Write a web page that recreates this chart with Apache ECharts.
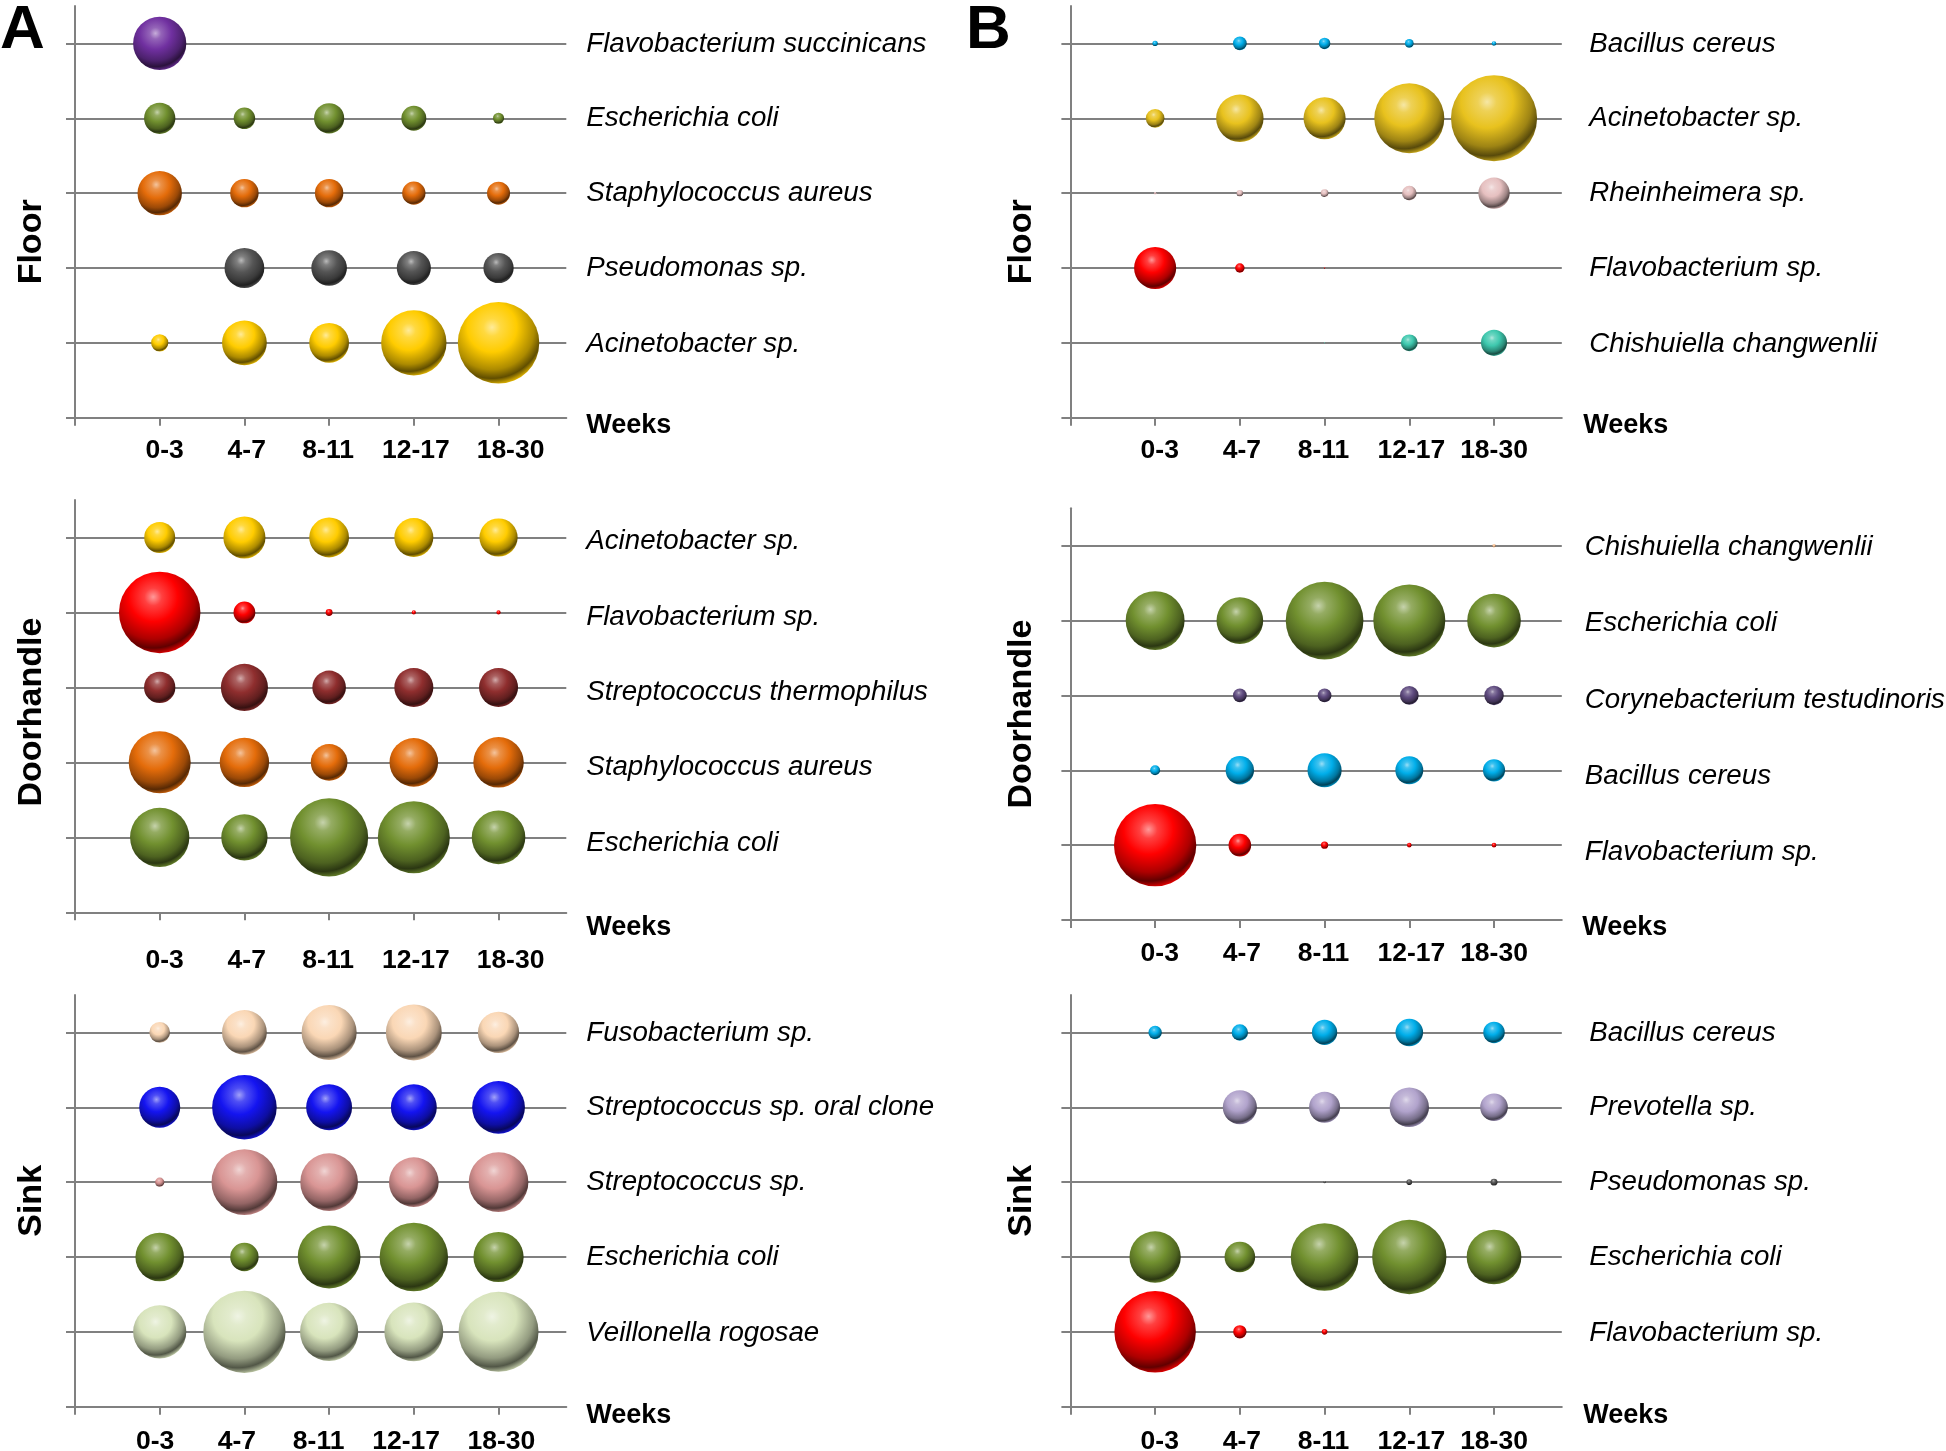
<!DOCTYPE html>
<html>
<head>
<meta charset="utf-8">
<script src="https://cdn.jsdelivr.net/npm/echarts@6/dist/echarts.min.js"></script>
<style>
  html, body { margin: 0; padding: 0; background: #fff; }
  #chart { width: 1946px; height: 1451px; }
</style>
</head>
<body>
<div id="chart"></div>
<script>
// ---------------- DATA ----------------
const weeks = ['0-3', '4-7', '8-11', '12-17', '18-30'];

// Relative abundance (bubble area), species listed top to bottom; null = not detected
const floorA_species = ['Flavobacterium succinicans', 'Escherichia coli', 'Staphylococcus aureus', 'Pseudomonas sp.', 'Acinetobacter sp.'];
const floorA_values = [
  [28.30, null, null, null, null],
  [9.80, 4.62, 9.12, 6.20, 1.23],
  [19.71, 8.07, 8.07, 5.43, 5.29],
  [null, 15.84, 12.67, 11.63, 9.12],
  [2.96, 20.07, 15.84, 42.77, 66.42]
];

const doorA_species = ['Acinetobacter sp.', 'Flavobacterium sp.', 'Streptococcus thermophilus', 'Staphylococcus aureus', 'Escherichia coli'];
const doorA_values = [
  [9.61, 17.72, 15.84, 15.21, 14.59],
  [66.42, 4.75, 0.48, 0.18, 0.18],
  [9.80, 22.18, 11.29, 15.21, 15.21],
  [38.44, 24.40, 13.47, 23.62, 25.50],
  [35.16, 21.44, 61.00, 51.84, 28.73]
];

const sinkA_species = ['Fusobacterium sp.', 'Streptococcus sp. oral clone', 'Streptococcus sp.', 'Escherichia coli', 'Veillonella rogosae'];
const sinkA_values = [
  [4.28, 20.07, 30.36, 31.25, 17.06],
  [16.81, 41.73, 21.07, 21.07, 27.88],
  [0.85, 43.30, 33.29, 24.70, 35.64],
  [23.62, 8.07, 39.44, 46.92, 25.20],
  [28.30, 67.73, 33.87, 34.69, 64.00]
];

const floorB_species = ['Bacillus cereus', 'Acinetobacter sp.', 'Rheinheimera sp.', 'Flavobacterium sp.', 'Chishuiella changwenlii'];
const floorB_values = [
  [0.29, 1.90, 1.32, 0.77, 0.21],
  [3.50, 22.47, 17.72, 49.00, 74.13],
  [0.06, 0.42, 0.59, 2.13, 9.80],
  [17.72, 0.90, 0.02, null, null],
  [null, null, 0.01, 2.86, 6.81]
];

const doorB_species = ['Chishuiella changwenlii', 'Escherichia coli', 'Corynebacterium testudinoris', 'Bacillus cereus', 'Flavobacterium sp.'];
const doorB_values = [
  [null, null, null, null, 0.12],
  [34.69, 21.81, 60.37, 51.84, 28.73],
  [null, 1.90, 1.90, 3.50, 3.80],
  [1.00, 8.07, 11.63, 7.78, 4.93],
  [67.73, 5.11, 0.52, 0.21, 0.21]
];

const sinkB_species = ['Bacillus cereus', 'Prevotella sp.', 'Pseudomonas sp.', 'Escherichia coli', 'Flavobacterium sp.'];
const sinkB_values = [
  [1.80, 2.69, 6.40, 7.62, 4.62],
  [null, 11.63, 9.61, 15.52, 7.62],
  [null, null, 0.05, 0.32, 0.48],
  [26.32, 9.36, 45.83, 55.20, 29.92],
  [66.42, 1.80, 0.32, null, null]
];

// ---------------- STYLES ----------------
const floorA_colors = ['#7030a0', '#71902f', '#e46c0a', '#555555', '#ffcc00'];
const doorA_colors  = ['#ffcc00', '#ff0000', '#8f2e2e', '#e46c0a', '#71902f'];
const sinkA_colors  = ['#fad7b5', '#1414f0', '#d99594', '#71902f', '#d8e4bc'];
const floorB_colors = ['#00aeea', '#e8c21e', '#e6c0c0', '#ff0000', '#3ec8ae'];
const doorB_colors  = ['#fac090', '#71902f', '#5f4b7f', '#00aeea', '#ff0000'];
const sinkB_colors  = ['#00aeea', '#b1a3cc', '#555555', '#71902f', '#ff0000'];

const FONT = '"Liberation Sans", Arial, Helvetica, sans-serif';
const LINE = '#808080';

// per-label horizontal nudges of the week labels (px)
const nudgeA = [5, 2.3, -1, 2, 12];
const nudgeAsink = [-4.6, -7.6, -10.5, -7.7, 2.8];
const nudgeB = [4.6, 2, -1, 2, 0];
// per-label vertical nudges of the species labels (px, + = down)
const spNudgeFloor = [-1.9, -1.7, -1.4, -0.5, 0.3];
const spNudgeDoorA = [2.7, 4, 4, 4.4, 5];
const spNudgeDoorB = [0.7, 2, 4, 4.7, 6];

const panels = [
  { title: 'Floor', species: floorA_species, values: floorA_values, colors: floorA_colors,
    lay: { left: 75, top: 6, width: 491.3, height: 411.7, labelMargin: 19, nudge: nudgeA, spNudge: spNudgeFloor, nameGap: 26, namePad: [0, 60, 0, 0], weeksGap: 20, weeksLH: 15.6, spMargin: 20 } },
  { title: 'Doorhandle', species: doorA_species, values: doorA_values, colors: doorA_colors,
    lay: { left: 75, top: 500, width: 491.3, height: 412.3, labelMargin: 35, nudge: nudgeA, spNudge: spNudgeDoorA, nameGap: 26, namePad: [0, 12, 0, 0], weeksGap: 20, weeksLH: 31, spMargin: 20 } },
  { title: 'Sink', species: sinkA_species, values: sinkA_values, colors: sinkA_colors,
    lay: { left: 75, top: 995, width: 491.3, height: 411.7, labelMargin: 21, nudge: nudgeAsink, spNudge: spNudgeFloor, nameGap: 26, namePad: [0, 0, 0, 0], weeksGap: 20, weeksLH: 17, spMargin: 20 } },
  { title: 'Floor', species: floorB_species, values: floorB_values, colors: floorB_colors,
    lay: { left: 1070.4, top: 6, width: 491.4, height: 411.7, labelMargin: 19, nudge: nudgeB, spNudge: spNudgeFloor, nameGap: 32, namePad: [0, 60, 0, 0], weeksGap: 21.5, weeksLH: 15.6, spMargin: 27.5 } },
  { title: 'Doorhandle', species: doorB_species, values: doorB_values, colors: doorB_colors,
    lay: { left: 1070.4, top: 508.3, width: 491.4, height: 411.7, labelMargin: 20, nudge: nudgeB, spNudge: spNudgeDoorB, nameGap: 32, namePad: [0, 0, 0, 0], weeksGap: 20.5, weeksLH: 16, spMargin: 23 } },
  { title: 'Sink', species: sinkB_species, values: sinkB_values, colors: sinkB_colors,
    lay: { left: 1070.4, top: 995, width: 491.4, height: 411.7, labelMargin: 21, nudge: nudgeB, spNudge: spNudgeFloor, nameGap: 32, namePad: [0, 0, 0, 0], weeksGap: 21.5, weeksLH: 17, spMargin: 27.5 } }
];

// ---------------- HELPERS ----------------
function hexToRgb(h) {
  h = h.replace('#', '');
  return [parseInt(h.substr(0, 2), 16), parseInt(h.substr(2, 2), 16), parseInt(h.substr(4, 2), 16)];
}
function mix(c1, c2, t) {
  const a = hexToRgb(c1), b = hexToRgb(c2);
  const r = a.map((v, i) => Math.round(v + (b[i] - v) * t));
  return 'rgb(' + r.join(',') + ')';
}
function sphere(base) {
  return {
    type: 'radial', x: 0.42, y: 0.31, r: 0.72,
    colorStops: [
      { offset: 0.0, color: mix(base, '#ffffff', 0.6) },
      { offset: 0.15, color: mix(base, '#ffffff', 0.25) },
      { offset: 0.42, color: base },
      { offset: 0.72, color: mix(base, '#000000', 0.32) },
      { offset: 0.87, color: mix(base, '#000000', 0.62) },
      { offset: 1.0, color: mix(base, '#000000', 0.02) }
    ]
  };
}
function weekRich(nudge) {
  const rich = {};
  nudge.forEach((dx, i) => {
    rich['w' + i] = {
      fontFamily: FONT, fontSize: 26.5, fontWeight: 'bold', color: '#000',
      padding: dx >= 0 ? [0, 0, 0, 2 * dx] : [0, -2 * dx, 0, 0]
    };
  });
  return rich;
}
function speciesRich(nudge) {
  const rich = {};
  nudge.forEach((dy, k) => {
    rich['s' + k] = {
      fontFamily: FONT, fontSize: 27.7, fontStyle: 'italic', color: '#000',
      lineHeight: Math.max(1, 2 * (dy + 1))
    };
  });
  return rich;
}

// ---------------- OPTION ----------------
const grid = [], xAxis = [], yAxis = [], series = [];

panels.forEach((p, i) => {
  const L = p.lay;
  grid.push({ left: L.left, top: L.top, width: L.width, height: L.height, containLabel: false, outerBoundsMode: 'none' });

  xAxis.push({
    gridIndex: i, type: 'value', min: 0, max: 5.8, interval: 1,
    axisLine: { show: true, onZero: false, lineStyle: { color: LINE, width: 2 } },
    axisTick: { show: true, length: 8, customValues: [0, 1, 2, 3, 4, 5], lineStyle: { color: LINE, width: 2 } },
    axisLabel: {
      show: true, customValues: [1, 2, 3, 4, 5], margin: L.labelMargin,
      formatter: v => (Number.isInteger(v) && v >= 1 && v <= 5) ? '{w' + (v - 1) + '|' + weeks[v - 1] + '}' : '',
      rich: weekRich(L.nudge),
      fontFamily: FONT, fontSize: 26.5, fontWeight: 'bold', color: '#000'
    },
    splitLine: { show: false },
    name: 'Weeks', nameLocation: 'end', nameGap: L.weeksGap,
    nameTextStyle: { fontFamily: FONT, fontSize: 27, fontWeight: 'bold', color: '#000',
      verticalAlign: 'top', align: 'left', lineHeight: L.weeksLH }
  });

  // left axis: vertical line, stubs, row lines, panel name
  yAxis.push({
    gridIndex: i, type: 'value', min: 0, max: 5.5, interval: 1, position: 'left',
    axisLine: { show: true, onZero: false, lineStyle: { color: LINE, width: 2 } },
    axisTick: { show: true, length: 9, customValues: [0, 1, 2, 3, 4, 5], lineStyle: { color: LINE, width: 2 } },
    axisLabel: { show: false },
    splitLine: { show: true, lineStyle: { color: [LINE, LINE, LINE, LINE, LINE, LINE, 'rgba(0,0,0,0)'], width: 2 } },
    name: p.title, nameLocation: 'middle', nameRotate: 90, nameGap: L.nameGap,
    nameTextStyle: { fontFamily: FONT, fontSize: 34, fontWeight: 'bold', color: '#000', padding: L.namePad }
  });

  // right axis: species names
  const sp = p.species;
  yAxis.push({
    gridIndex: i, type: 'value', min: 0, max: 5.5, interval: 1, position: 'right',
    axisLine: { show: false }, axisTick: { show: false }, splitLine: { show: false },
    axisLabel: {
      show: true, customValues: [1, 2, 3, 4, 5], margin: L.spMargin, align: 'left', verticalAlign: 'top',
      formatter: v => { const k = 5 - v; return (Number.isInteger(v) && k >= 0 && k < 5) ? '{s' + k + '|' + sp[k] + '}' : ''; },
      rich: speciesRich(L.spNudge),
      fontFamily: FONT, fontSize: 27.7, fontStyle: 'italic', color: '#000'
    }
  });

  p.values.forEach((row, k) => {
    const data = [];
    row.forEach((v, w) => { if (v != null) data.push([w + 1, 5 - k, v]); });
    series.push({
      type: 'scatter', name: sp[k], xAxisIndex: i, yAxisIndex: 2 * i,
      data: data, symbol: 'circle',
      symbolSize: d => 10 * Math.sqrt(d[2]),
      itemStyle: { color: sphere(p.colors[k]), opacity: 1 },
      silent: true, z: 3
    });
  });
});

const option = {
  backgroundColor: '#ffffff',
  animation: false,
  title: [
    { text: 'A', left: 0, top: 0, padding: 0, textStyle: { fontFamily: FONT, fontSize: 62, fontWeight: 'bold', color: '#000' } },
    { text: 'B', left: 966, top: 0, padding: 0, textStyle: { fontFamily: FONT, fontSize: 62, fontWeight: 'bold', color: '#000' } }
  ],
  grid, xAxis, yAxis, series
};

const chart = echarts.init(document.getElementById('chart'), null, { renderer: 'canvas' });
chart.setOption(option);
</script>
</body>
</html>
